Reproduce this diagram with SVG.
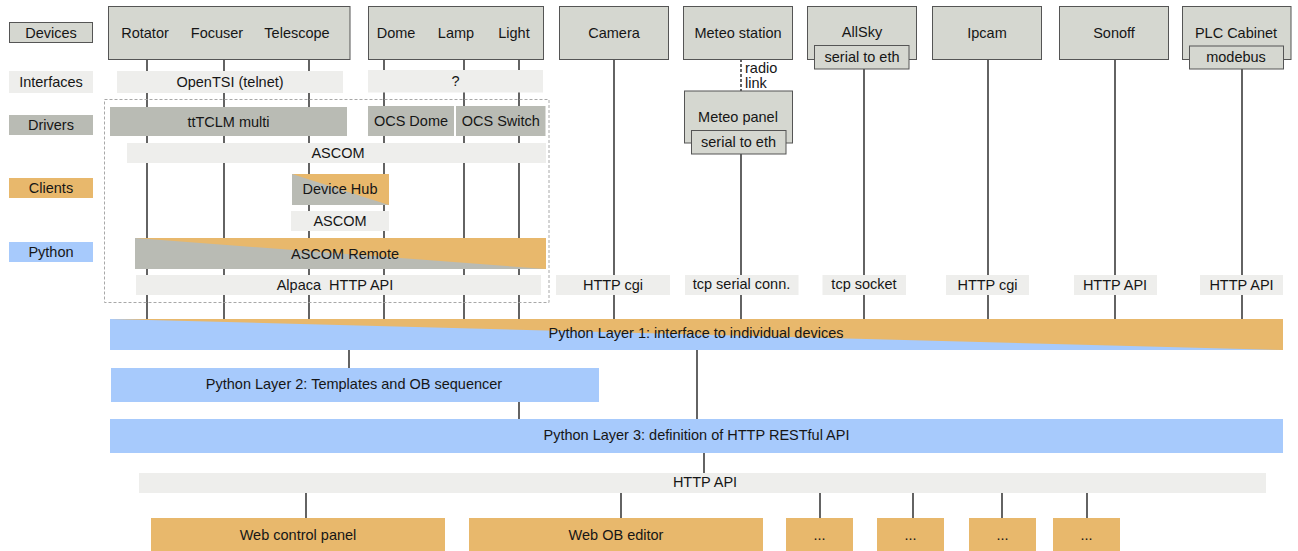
<svg xmlns="http://www.w3.org/2000/svg" width="1298" height="551" viewBox="0 0 1298 551">
<style>
.dev{fill:#d5d7d0;stroke:#555;stroke-width:1}
.itf{fill:#eeeeec}
.drv{fill:#b9bbb4}
.cli{fill:#e8b86c}
.py{fill:#a7cafc}
text{font-family:"Liberation Sans",Arial,sans-serif;font-size:14.5px;fill:#161616;text-anchor:middle;dominant-baseline:central}
.lft{text-anchor:start}
.conn line{stroke:#222;stroke-width:1.4;fill:none}
.dsh{stroke-dasharray:3 2}
.frame{fill:none;stroke:#a8a8a8;stroke-width:1;stroke-dasharray:3 2}
</style>
<rect width="1298" height="551" fill="#ffffff"/>

<g id="legend">
<rect class="dev" x="9.5" y="22.5" width="83" height="20"/><text x="51" y="32.5">Devices</text>
<rect class="itf" x="9" y="71" width="84" height="22"/><text x="51" y="82">Interfaces</text>
<rect class="drv" x="9" y="115" width="84" height="20"/><text x="51" y="125">Drivers</text>
<rect class="cli" x="9" y="178" width="84" height="20"/><text x="51" y="188">Clients</text>
<rect class="py" x="9" y="242" width="84" height="20"/><text x="51" y="252">Python</text>
</g>

<g id="connectors" class="conn">
<line x1="147" y1="59" x2="147" y2="319"/>
<line x1="224" y1="59" x2="224" y2="319"/>
<line x1="309" y1="59" x2="309" y2="319"/>
<line x1="384" y1="59" x2="384" y2="319"/>
<line x1="464" y1="59" x2="464" y2="319"/>
<line x1="519" y1="59" x2="519" y2="319"/>
<line x1="614" y1="59" x2="614" y2="319"/>
<line class="dsh" x1="741" y1="59" x2="741" y2="91"/>
<line x1="741" y1="154" x2="741" y2="319"/>
<line x1="864" y1="69" x2="864" y2="319"/>
<line x1="988" y1="59" x2="988" y2="319"/>
<line x1="1115" y1="59" x2="1115" y2="319"/>
<line x1="1242" y1="69" x2="1242" y2="319"/>
<line x1="349" y1="350" x2="349" y2="368"/>
<line x1="519" y1="402" x2="519" y2="419"/>
<line x1="697" y1="350" x2="697" y2="419"/>
<line x1="704" y1="453" x2="704" y2="473"/>
<line x1="306" y1="493" x2="306" y2="518"/>
<line x1="621" y1="493" x2="621" y2="518"/>
<line x1="820" y1="493" x2="820" y2="518"/>
<line x1="913" y1="493" x2="913" y2="518"/>
<line x1="1002" y1="493" x2="1002" y2="518"/>
<line x1="1087" y1="493" x2="1087" y2="518"/>
</g>
<text class="lft" x="745" y="68">radio</text>
<text class="lft" x="745" y="83">link</text>

<rect id="ascom-frame" class="frame" x="104.5" y="99.5" width="444.5" height="203"/>

<g id="telescope-group">
<rect class="dev" x="108.5" y="6.5" width="241.5" height="53"/>
<text x="145" y="33">Rotator</text><text x="217" y="33">Focuser</text><text x="297" y="33">Telescope</text>
</g>
<g id="dome-group">
<rect class="dev" x="368.5" y="6.5" width="175" height="53"/>
<text x="396" y="33">Dome</text><text x="456" y="33">Lamp</text><text x="514" y="33">Light</text>
</g>
<g id="camera"><rect class="dev" x="559.5" y="6.5" width="109" height="53"/><text x="614" y="33">Camera</text></g>
<g id="meteo-station"><rect class="dev" x="683.5" y="6.5" width="109" height="53"/><text x="738" y="33">Meteo station</text></g>
<g id="allsky"><rect class="dev" x="807.5" y="6.5" width="109" height="53"/><text x="862" y="32">AllSky</text>
<rect class="dev" x="814.5" y="45.5" width="94.5" height="23.5"/><text x="862" y="57">serial to eth</text></g>
<g id="ipcam"><rect class="dev" x="932.5" y="6.5" width="109" height="53"/><text x="987" y="33">Ipcam</text></g>
<g id="sonoff"><rect class="dev" x="1059.5" y="6.5" width="109" height="53"/><text x="1114" y="33">Sonoff</text></g>
<g id="plc"><rect class="dev" x="1182.5" y="6.5" width="108.5" height="53"/><text x="1236" y="33">PLC Cabinet</text>
<rect class="dev" x="1189.5" y="46" width="94" height="23"/><text x="1236" y="57">modebus</text></g>
<g id="meteo-panel"><rect class="dev" x="684.5" y="91" width="108" height="52"/><text x="738" y="117">Meteo panel</text>
<rect class="dev" x="691.5" y="130.5" width="94.5" height="23.5"/><text x="738.5" y="142">serial to eth</text></g>

<g id="opentsi"><rect class="itf" x="117" y="71" width="226" height="22"/><text x="230" y="82">OpenTSI (telnet)</text></g>
<g id="dome-iface"><rect class="itf" x="368" y="70" width="175" height="22.5"/><text x="455.5" y="81">?</text></g>
<g id="ttTCLM"><rect class="drv" x="110" y="107" width="237" height="29"/><text x="228.5" y="122">ttTCLM multi</text></g>
<g id="ocs-dome"><rect class="drv" x="368" y="106" width="86" height="30"/><text x="411" y="121">OCS Dome</text></g>
<g id="ocs-switch"><rect class="drv" x="456" y="106" width="89.5" height="30"/><text x="500.8" y="121">OCS Switch</text></g>
<g id="ascom1"><rect class="itf" x="127" y="143" width="419" height="20"/><text x="338" y="153">ASCOM</text></g>
<g id="device-hub"><rect class="drv" x="292" y="174" width="97" height="31"/><polygon class="cli" points="292,174 389,174 389,205"/><text x="340" y="189">Device Hub</text></g>
<g id="ascom2"><rect class="itf" x="291" y="211" width="98" height="20"/><text x="340" y="221">ASCOM</text></g>
<g id="ascom-remote"><rect class="drv" x="135" y="238" width="411" height="31"/><polygon class="cli" points="135,238 546,238 546,269"/><text x="345" y="253.5">ASCOM Remote</text></g>
<g id="alpaca"><rect class="itf" x="136" y="275" width="405" height="20"/><text x="335" y="284.5" xml:space="preserve">Alpaca  HTTP API</text></g>

<g id="camera-iface"><rect class="itf" x="556" y="275" width="114" height="20"/><text x="613" y="285">HTTP cgi</text></g>
<g id="meteo-iface"><rect class="itf" x="685" y="275" width="113.5" height="20"/><text x="741.5" y="284">tcp serial conn.</text></g>
<g id="allsky-iface"><rect class="itf" x="822.5" y="275" width="83.5" height="20"/><text x="864" y="284">tcp socket</text></g>
<g id="ipcam-iface"><rect class="itf" x="946" y="275" width="83" height="20"/><text x="987.5" y="285">HTTP cgi</text></g>
<g id="sonoff-iface"><rect class="itf" x="1074" y="275" width="83" height="20"/><text x="1115" y="285">HTTP API</text></g>
<g id="plc-iface"><rect class="itf" x="1200" y="275" width="83" height="20"/><text x="1241.5" y="285">HTTP API</text></g>

<g id="layer1"><rect class="py" x="110" y="319" width="1173" height="31"/><polygon class="cli" points="110,319 1283,319 1283,350"/><text x="696" y="333">Python Layer 1: interface to individual devices</text></g>
<g id="layer2"><rect class="py" x="111" y="368" width="488" height="34"/><text x="354" y="384">Python Layer 2: Templates and OB sequencer</text></g>
<g id="layer3"><rect class="py" x="110" y="419" width="1173" height="34"/><text x="696.5" y="435">Python Layer 3: definition of HTTP RESTful API</text></g>
<g id="http-api"><rect class="itf" x="139" y="473" width="1127" height="20"/><text x="705" y="482">HTTP API</text></g>

<g id="web-control"><rect class="cli" x="151" y="518" width="294" height="33"/><text x="298" y="535">Web control panel</text></g>
<g id="web-ob"><rect class="cli" x="469" y="518" width="294" height="33"/><text x="616" y="535">Web OB editor</text></g>
<g id="more1"><rect class="cli" x="786" y="518" width="67" height="33"/><text x="819.5" y="535">...</text></g>
<g id="more2"><rect class="cli" x="877" y="518" width="67" height="33"/><text x="910.5" y="535">...</text></g>
<g id="more3"><rect class="cli" x="969" y="518" width="67" height="33"/><text x="1002.5" y="535">...</text></g>
<g id="more4"><rect class="cli" x="1053" y="518" width="67" height="33"/><text x="1086.5" y="535">...</text></g>
</svg>
